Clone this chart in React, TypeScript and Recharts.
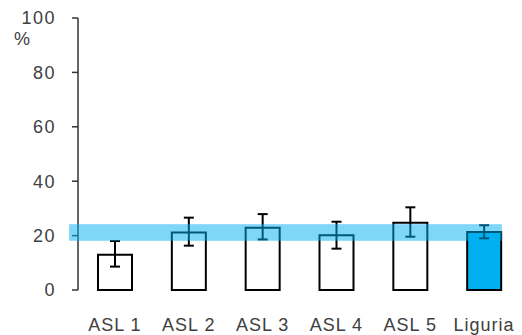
import { BarChart, Bar, Cell, XAxis, YAxis, ErrorBar, ReferenceArea } from "recharts";

const areas = ["ASL 1", "ASL 2", "ASL 3", "ASL 4", "ASL 5", "Liguria"];
const values = [13.0, 21.1, 22.9, 20.1, 24.7, 21.3];
const lows = [8.6, 16.3, 18.6, 15.2, 19.6, 19.0];
const highs = [18.0, 26.6, 27.9, 25.1, 30.4, 23.8];
const yTicks = [0, 20, 40, 60, 80, 100];
// Liguria confidence band
const bandLow = 18.1;
const bandHigh = 24.2;

const data = areas.map((area, i) => ({
  area,
  value: values[i],
  err: [values[i] - lows[i], highs[i] - values[i]],
}));

const font = "'Liberation Sans', Arial, sans-serif";

function YTick(props: any) {
  const { x, y, payload } = props;
  return (
    <text x={x - 14} y={y} dy="0.355em" textAnchor="end" fontSize={18} fill="#404040" fontFamily={font} letterSpacing={1.5}>
      {payload.value}
    </text>
  );
}

// band reaches a little left of the axis and stops short of the right edge
function Band(props: any) {
  const { x, y, width, height } = props;
  const slot = width / areas.length;
  return (
    <rect
      x={x - slot * 0.12}
      y={y}
      width={width - slot * 0.14}
      height={height}
      fill="#00B0F0"
      fillOpacity={0.5}
    />
  );
}

export default function App() {
  return (
    <div style={{ position: "absolute", left: 0, top: 0, width: 522, height: 335, background: "#fff", fontFamily: font }}>
      <span style={{ position: "absolute", left: 14, top: 29, fontSize: 18, color: "#404040" }}>%</span>
      <BarChart
        width={522}
        height={335}
        data={data}
        margin={{ top: 18, right: 1, bottom: 0, left: 0 }}
        barSize={34}
      >
        <XAxis
          dataKey="area"
          axisLine={false}
          tickLine={false}
          tickSize={0}
          tickMargin={28}
          height={45}
          interval={0}
          tick={{ fontSize: 18, fill: "#404040", fontFamily: font, letterSpacing: 1 }}
        />
        <YAxis
          width={78}
          domain={[0, 100]}
          ticks={yTicks}
          tickSize={6}
          axisLine={{ stroke: "#333", strokeWidth: 1.5 }}
          tickLine={{ stroke: "#333", strokeWidth: 1.5 }}
          tick={<YTick />}
        />
        <Bar dataKey="value" stroke="#000" strokeWidth={2} isAnimationActive={false}>
          {data.map((d, i) => (
            <Cell key={d.area} fill={i === data.length - 1 ? "#00B0F0" : "#fff"} />
          ))}
          <ErrorBar dataKey="err" width={5} stroke="#000" strokeWidth={2} isAnimationActive={false} />
        </Bar>
        <ReferenceArea
          y1={bandLow}
          y2={bandHigh}
          stroke="none"
          ifOverflow="visible"
          zIndex={1000}
          shape={<Band />}
        />
      </BarChart>
    </div>
  );
}
